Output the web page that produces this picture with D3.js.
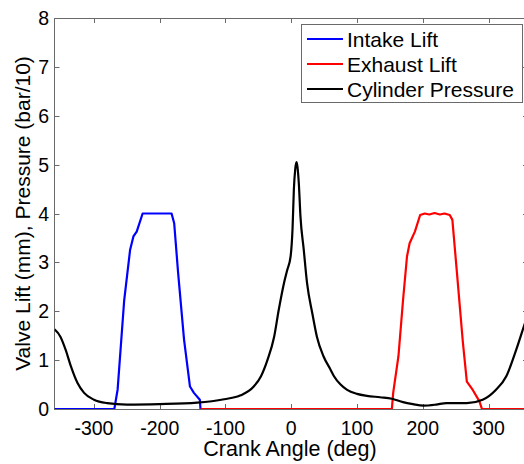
<!DOCTYPE html>
<html>
<head>
<meta charset="utf-8">
<script src="https://cdn.jsdelivr.net/npm/d3@7"></script>
<style>
  body { margin: 0; background: #fff; }
  svg { display: block; font-family: 'Liberation Sans', Arial, sans-serif; }
</style>
</head>
<body>
<div id="chart"></div>
<script>
const width = 524;
const height = 464;
const box = {l: 54.5, r: 528, t: 18, b: 409};

// crank angle (deg) / value pairs
const intakeDeg  = [-360, -269, -264, -254, -245, -240, -235, -226, -182, -178, -172, -163, -154, -148, -139, -138];
const intakeLift = [0, 0, 0.4, 2.23, 3.26, 3.53, 3.63, 4.0, 4.0, 3.8, 2.78, 1.42, 0.46, 0.33, 0.19, 0];

const exhaustDeg  = [-138, 153, 155, 163, 170, 176, 180, 188, 196, 203, 210, 218, 226, 233, 241, 245, 252, 261, 267, 276, 286, 290, 360];
const exhaustLift = [0, 0, 0.33, 1.08, 2.23, 3.12, 3.39, 3.63, 3.97, 4.0, 3.98, 4.01, 3.98, 4.0, 3.97, 3.87, 2.78, 1.36, 0.56, 0.39, 0.16, 0, 0];

const pressDeg = [-360, -351, -343, -335, -325, -315, -300, -280, -250, -200, -143, -102, -77, -57, -46, -36, -26, -19, -11, -6, -1, 2, 4, 6, 8, 9.5, 11.5, 14, 19, 24, 32, 39, 49, 60, 65, 75, 85, 100, 115, 135, 153, 170, 185, 201, 220, 236, 267, 291, 311, 327, 342, 352, 360];
const pressure = [1.63, 1.48, 1.21, 0.87, 0.53, 0.33, 0.19, 0.12, 0.09, 0.10, 0.13, 0.2, 0.28, 0.46, 0.67, 1.01, 1.48, 2.03, 2.58, 2.85, 3.12, 3.7, 4.5, 4.9, 5.05, 4.95, 4.62, 3.94, 3.26, 2.58, 1.96, 1.48, 1.08, 0.80, 0.67, 0.50, 0.39, 0.31, 0.27, 0.24, 0.21, 0.14, 0.10, 0.07, 0.09, 0.12, 0.12, 0.19, 0.39, 0.67, 1.21, 1.62, 1.95];

const xTicks = [-300, -200, -100, 0, 100, 200, 300];
const yTicks = [0, 1, 2, 3, 4, 5, 6, 7, 8];

const series = [
  {name: 'Intake Lift', color: '#0000ff', xs: intakeDeg, ys: intakeLift, curve: d3.curveLinear},
  {name: 'Exhaust Lift', color: '#ff0000', xs: exhaustDeg, ys: exhaustLift, curve: d3.curveLinear},
  {name: 'Cylinder Pressure', color: '#000000', xs: pressDeg, ys: pressure, curve: d3.curveMonotoneX}
];

const svg = d3.select('#chart').append('svg')
  .attr('width', width)
  .attr('height', height);

const x = d3.scaleLinear().domain([-360, 360]).range([box.l, box.r]);
const y = d3.scaleLinear().domain([0, 8]).range([box.b, box.t]);

const axisCol = '#6a6a6a';
const tickLen = 5;

// frame
svg.append('rect')
  .attr('x', box.l).attr('y', box.t + 0.5)
  .attr('width', box.r - box.l).attr('height', box.b - box.t)
  .attr('fill', 'none').attr('stroke', axisCol);

// ticks, inward on all four sides
const tk = svg.append('g').attr('stroke', axisCol);
xTicks.forEach(v => {
  const px = Math.round(x(v)) + 0.5;
  tk.append('line').attr('x1', px).attr('x2', px).attr('y1', box.b).attr('y2', box.b - tickLen);
  tk.append('line').attr('x1', px).attr('x2', px).attr('y1', box.t).attr('y2', box.t + tickLen);
});
yTicks.slice(1, -1).forEach(v => {
  const py = Math.round(y(v)) + 0.5;
  tk.append('line').attr('x1', box.l).attr('x2', box.l + tickLen).attr('y1', py).attr('y2', py);
  tk.append('line').attr('x1', box.r).attr('x2', box.r - tickLen).attr('y1', py).attr('y2', py);
});

// tick labels
svg.append('g').selectAll('text').data(xTicks).join('text')
  .attr('x', d => x(d)).attr('y', 435)
  .attr('text-anchor', 'middle')
  .attr('font-size', 19.5)
  .text(d => d);
svg.append('g').selectAll('text').data(yTicks).join('text')
  .attr('x', 49).attr('y', d => y(d) + 7)
  .attr('text-anchor', 'end')
  .attr('font-size', 19.5)
  .text(d => d);

// axis labels
svg.append('text')
  .attr('x', 290).attr('y', 456)
  .attr('text-anchor', 'middle')
  .attr('font-size', 21.5)
  .text('Crank Angle (deg)');
svg.append('text')
  .attr('transform', `translate(30, ${(box.t + box.b) / 2}) rotate(-90)`)
  .attr('text-anchor', 'middle')
  .attr('font-size', 21)
  .text('Valve Lift (mm), Pressure (bar/10)');

// data lines
svg.append('clipPath').attr('id', 'plot-clip')
  .append('rect')
  .attr('x', box.l).attr('y', box.t)
  .attr('width', box.r - box.l).attr('height', box.b - box.t);

const plot = svg.append('g').attr('clip-path', 'url(#plot-clip)');
series.forEach(s => {
  const line = d3.line().x(d => x(d[0])).y(d => y(d[1])).curve(s.curve);
  plot.append('path')
    .datum(s.xs.map((v, i) => [v, s.ys[i]]))
    .attr('fill', 'none')
    .attr('stroke', s.color)
    .attr('stroke-width', 2.2)
    .attr('stroke-linejoin', 'round')
    .attr('d', line);
});

// legend
const lg = svg.append('g');
lg.append('rect')
  .attr('x', 301.5).attr('y', 24.5)
  .attr('width', 221).attr('height', 78)
  .attr('fill', '#fff').attr('stroke', axisCol);
series.forEach((s, i) => {
  const cy = 39 + i * 25;
  lg.append('line')
    .attr('x1', 307).attr('x2', 343)
    .attr('y1', cy).attr('y2', cy)
    .attr('stroke', s.color).attr('stroke-width', 2.2);
  lg.append('text')
    .attr('x', 347).attr('y', cy + 7.5)
    .attr('font-size', 21)
    .text(s.name);
});
</script>
</body>
</html>
